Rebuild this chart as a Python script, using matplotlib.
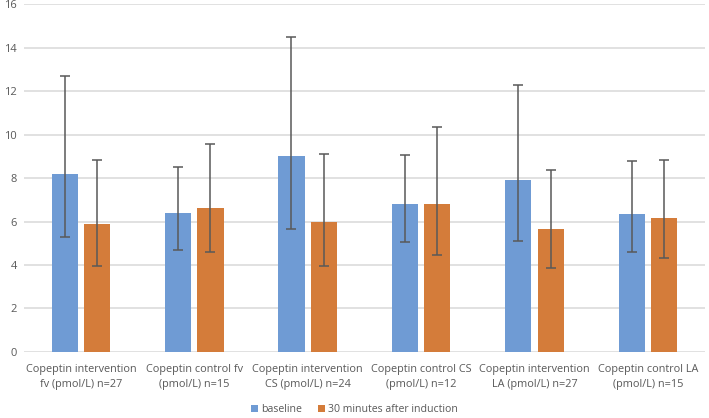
import numpy as np
import matplotlib
matplotlib.use("Agg")
import matplotlib.pyplot as plt

categories = ["Copeptin intervention\nfv (pmol/L) n=27",
              "Copeptin control fv\n(pmol/L) n=15",
              "Copeptin intervention\nCS (pmol/L) n=24",
              "Copeptin control CS\n(pmol/L) n=12",
              "Copeptin intervention\nLA (pmol/L) n=27",
              "Copeptin control LA\n(pmol/L) n=15"]

baseline = [8.2, 6.4, 9.0, 6.8, 7.9, 6.35]
baseline_hi = [12.7, 8.5, 14.5, 9.05, 12.3, 8.8]
baseline_lo = [5.3, 4.7, 5.65, 5.05, 5.1, 4.6]

after30 = [5.9, 6.6, 6.0, 6.8, 5.65, 6.15]
after30_hi = [8.85, 9.55, 9.1, 10.35, 8.35, 8.85]
after30_lo = [3.95, 4.6, 3.95, 4.45, 3.85, 4.3]

plt.rcParams['font.family'] = ['Open Sans', 'DejaVu Sans']

fig = plt.figure(figsize=(7.09, 4.18), dpi=100)
ax = fig.add_axes([0.034, 0.158, 0.96, 0.832])

x = np.arange(len(categories))
w = 0.23
off = 0.143
gray = "#595959"

b = np.array(baseline)
a = np.array(after30)
ax.bar(x - off, b, w, color="#6F9BD4", label="baseline", zorder=2)
ax.bar(x + off, a, w, color="#D47C3A", label="30 minutes after induction", zorder=2)
ax.errorbar(x - off, b, yerr=[b - np.array(baseline_lo), np.array(baseline_hi) - b],
            fmt="none", ecolor=gray, elinewidth=1.1, capsize=3.5, capthick=1.1, zorder=3)
ax.errorbar(x + off, a, yerr=[a - np.array(after30_lo), np.array(after30_hi) - a],
            fmt="none", ecolor=gray, elinewidth=1.1, capsize=3.5, capthick=1.1, zorder=3)

ax.set_ylim(0, 16)
ax.set_xlim(-0.5, len(categories) - 0.5)
ax.set_yticks(range(0, 17, 2))
ax.yaxis.grid(True, color="#D9D9D9", linewidth=1.1, zorder=0)
for s in ax.spines.values():
    s.set_visible(False)
ax.tick_params(axis="y", length=0, colors=gray, labelsize=8, pad=5)
ax.tick_params(axis="x", length=0, colors=gray, labelsize=7.8, pad=9)
ax.set_xticks(x)
ax.set_xticklabels(categories, linespacing=1.45)

fig.legend(loc="lower center", bbox_to_anchor=(0.5, -0.016), ncol=2, frameon=False,
           fontsize=7.6, labelcolor=gray, handlelength=0.7, handleheight=0.7,
           handletextpad=0.3, columnspacing=1.5)

fig.savefig("out.png", dpi=100)
